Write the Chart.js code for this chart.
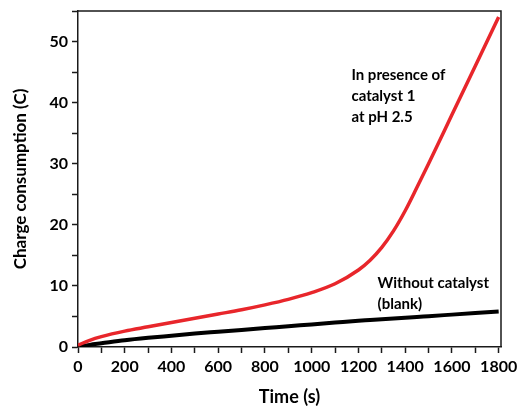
<!DOCTYPE html>
<html>
<head>
<meta charset="utf-8">
<script src="https://cdn.jsdelivr.net/npm/chart.js@4.4.1/dist/chart.umd.min.js"></script>
<style>
  html, body { margin: 0; padding: 0; background: #fff; }
  #wrap { width: 517px; height: 408px; }
</style>
</head>
<body>
<div id="wrap"><canvas id="myChart" width="517" height="408"></canvas></div>
<script>
// time points (s)
const times = [0, 50, 100, 200, 300, 400, 500, 600, 700, 800, 900, 1000, 1100, 1200, 1250, 1300, 1350, 1400, 1450, 1500, 1600, 1700, 1800];
// charge with catalyst 1 at pH 2.5 (C)
const withCatalyst = [0.3, 1.1, 1.7, 2.6, 3.3, 4.0, 4.7, 5.4, 6.1, 6.9, 7.8, 8.9, 10.35, 12.6, 14.2, 16.3, 19.0, 22.3, 26.1, 30.0, 38.0, 46.0, 54.0];
// blank, no catalyst (C)
const blank = [0, 0.35, 0.6, 1.1, 1.5, 1.85, 2.2, 2.5, 2.8, 3.1, 3.4, 3.7, 4.0, 4.3, 4.42, 4.55, 4.68, 4.8, 4.92, 5.05, 5.3, 5.55, 5.8];

const xTickLabels = [0, 200, 400, 600, 800, 1000, 1200, 1400, 1600, 1800];
const xMinorTicks = [100, 300, 500, 700, 900, 1100, 1300, 1500, 1700];
const yTickLabels = [0, 10, 20, 30, 40, 50];

// annotation text, anchored in data units
const notes = [
  { lines: ['In presence of', 'catalyst 1', 'at pH 2.5'], x: 1170, y: 44.5 },
  { lines: ['Without catalyst', '(blank)'], x: 1282, y: 10.4 }
];

const FONT = 'Lato, "Open Sans", sans-serif';
const axisColor = '#1a1a1a';

function pts(ys) {
  return times.map((t, i) => ({ x: t, y: ys[i] }));
}

// closes the box on top and right
const framePlugin = {
  id: 'frame',
  afterDraw(chart) {
    const { ctx, chartArea: a } = chart;
    ctx.save();
    ctx.strokeStyle = axisColor;
    ctx.lineWidth = 1.5;
    ctx.beginPath();
    ctx.moveTo(a.left, a.top);
    ctx.lineTo(a.right, a.top);
    ctx.lineTo(a.right, a.bottom);
    ctx.stroke();
    ctx.restore();
  }
};

const notesPlugin = {
  id: 'notes',
  afterDatasetsDraw(chart) {
    const ctx = chart.ctx;
    const xs = chart.scales.x, ys = chart.scales.y;
    ctx.save();
    ctx.fillStyle = '#000';
    ctx.font = 'bold 15px ' + FONT;
    ctx.textAlign = 'left';
    ctx.textBaseline = 'middle';
    notes.forEach(n => {
      const px = xs.getPixelForValue(n.x);
      const py = ys.getPixelForValue(n.y);
      n.lines.forEach((l, i) => ctx.fillText(l, px, py + i * 21));
    });
    ctx.restore();
  }
};

const data = {
  datasets: [
    {
      label: 'In presence of catalyst 1 at pH 2.5',
      data: pts(withCatalyst),
      borderColor: '#e8262b',
      borderWidth: 3.5,
      pointRadius: 0,
      cubicInterpolationMode: 'monotone'
    },
    {
      label: 'Without catalyst (blank)',
      data: pts(blank),
      borderColor: '#000000',
      borderWidth: 4,
      pointRadius: 0,
      cubicInterpolationMode: 'monotone'
    }
  ]
};

const config = {
  type: 'line',
  data: data,
  options: {
    responsive: false,
    animation: false,
    layout: { padding: { top: 11, right: 16, left: 0, bottom: 0 } },
    plugins: { legend: { display: false }, tooltip: { enabled: false } },
    scales: {
      x: {
        type: 'linear',
        min: 0,
        max: 1810,
        afterBuildTicks: s => {
          s.ticks = xTickLabels.concat(xMinorTicks).sort((a, b) => a - b).map(v => ({ value: v }));
        },
        grid: { drawOnChartArea: false, tickLength: 6, tickWidth: 1.5, tickColor: axisColor },
        border: { color: axisColor, width: 1.5 },
        ticks: {
          autoSkip: false,
          maxRotation: 0,
          padding: 4,
          color: '#000',
          font: { family: FONT, size: 16, weight: 'bold' },
          callback: v => xTickLabels.includes(v) ? String(v) : ''
        },
        title: {
          display: true,
          text: 'Time (s)',
          color: '#000',
          font: { family: FONT, size: 18, weight: 'bold' },
          padding: { top: 0, bottom: 0 }
        },
        afterFit: s => { s.height = 61; s.paddingLeft = 0; s.paddingRight = 0; }
      },
      y: {
        min: 0,
        max: 55,
        grid: { drawOnChartArea: false, tickLength: 6, tickWidth: 1.5, tickColor: axisColor },
        border: { color: axisColor, width: 1.5 },
        ticks: {
          stepSize: 5,
          includeBounds: false,
          autoSkip: false,
          padding: 4,
          color: '#000',
          font: { family: FONT, size: 16, weight: 'bold' },
          callback: v => yTickLabels.includes(Math.round(v)) ? String(Math.round(v)) : ''
        },
        title: {
          display: true,
          text: 'Charge consumption (C)',
          color: '#000',
          font: { family: FONT, size: 17, weight: 'bold' },
          padding: { top: 10, bottom: 0 }
        },
        afterFit: s => { s.width = 78; s.paddingTop = 0; s.paddingBottom = 0; }
      }
    }
  },
  plugins: [framePlugin, notesPlugin]
};

const myChart = new Chart(document.getElementById('myChart'), config);
</script>
</body>
</html>
